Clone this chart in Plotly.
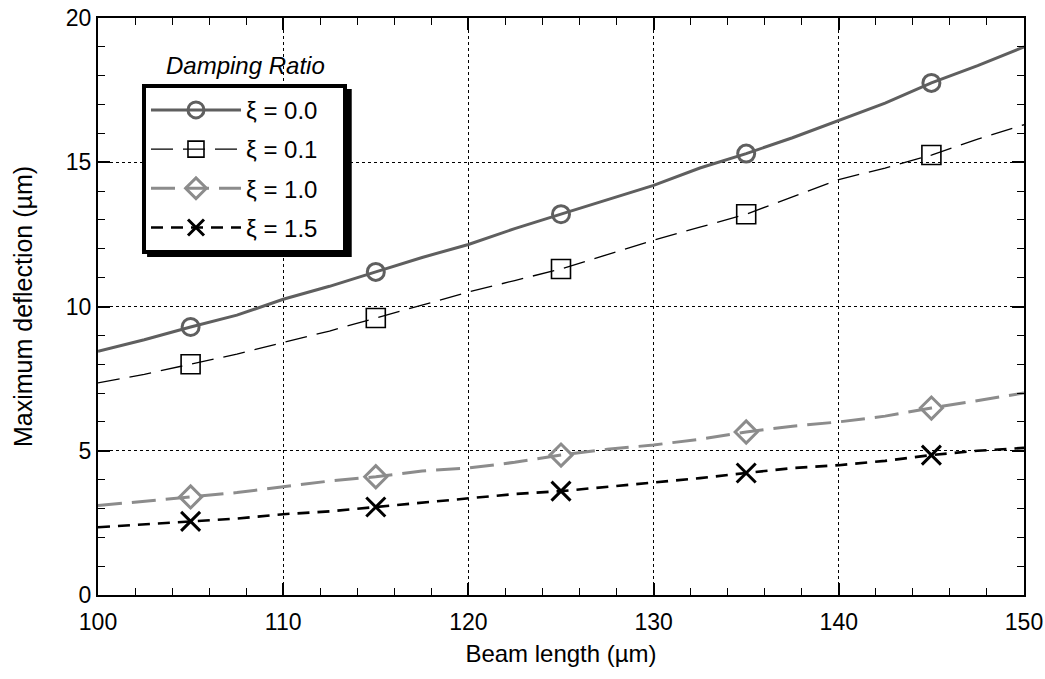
import plotly.graph_objects as go

beam_length = [100, 102.5, 105, 107.5, 110, 112.5, 115, 117.5, 120, 122.5, 125, 127.5, 130, 132.5, 135, 137.5, 140, 142.5, 145, 147.5, 150]
xi_00 = [8.45, 8.85, 9.29, 9.7, 10.25, 10.7, 11.2, 11.7, 12.15, 12.7, 13.2, 13.7, 14.2, 14.8, 15.3, 15.85, 16.45, 17.05, 17.75, 18.35, 19.0]
xi_01 = [7.35, 7.65, 8.0, 8.35, 8.75, 9.15, 9.6, 10.05, 10.5, 10.9, 11.3, 11.8, 12.3, 12.75, 13.2, 13.8, 14.4, 14.8, 15.25, 15.8, 16.3]
xi_10 = [3.1, 3.25, 3.4, 3.55, 3.75, 3.95, 4.1, 4.3, 4.4, 4.6, 4.85, 5.05, 5.2, 5.4, 5.65, 5.85, 6.0, 6.2, 6.48, 6.75, 7.0]
xi_15 = [2.35, 2.45, 2.55, 2.65, 2.8, 2.9, 3.05, 3.2, 3.35, 3.5, 3.6, 3.75, 3.9, 4.05, 4.23, 4.4, 4.5, 4.65, 4.85, 5.0, 5.1]

series_names = ["ξ = 0.0", "ξ = 0.1", "ξ = 1.0", "ξ = 1.5"]
marker_idx = [2, 6, 10, 14, 18]  # markers at 105, 115, 125, 135, 145

styles = [
    dict(color="#5f5f5f", width=3, dash="solid", symbol="circle-open", msize=17, mlw=3),
    dict(color="#000000", width=1.3, dash="22px,10px", symbol="square-open", msize=19, mlw=1.6),
    dict(color="#8c8c8c", width=3, dash="24px,10px", symbol="diamond-open", msize=17, mlw=3),
    dict(color="#000000", width=2.6, dash="12px,8px", symbol="x-thin-open", msize=19, mlw=3),
]

fig = go.Figure()
for k, (name, ys, st) in enumerate(zip(series_names, [xi_00, xi_01, xi_10, xi_15], styles)):
    fig.add_trace(go.Scatter(
        x=beam_length, y=ys, mode="lines", showlegend=False,
        line=dict(color=st["color"], width=st["width"], dash=st["dash"]),
    ))
    fig.add_trace(go.Scatter(
        x=[beam_length[i] for i in marker_idx], y=[ys[i] for i in marker_idx],
        mode="markers", showlegend=False,
        marker=dict(symbol=st["symbol"], size=st["msize"], color=st["color"],
                    line=dict(color=st["color"], width=st["mlw"])),
    ))
    fig.add_trace(go.Scatter(
        x=[None], y=[None], mode="lines+markers", name=name + "\u00a0\u00a0\u00a0",
        legendgroup=f"g{k}",
        line=dict(color=st["color"], width=st["width"], dash=st["dash"]),
        marker=dict(symbol=st["symbol"], size=st["msize"], color=st["color"],
                    line=dict(color=st["color"], width=st["mlw"])),
    ))

font = "Liberation Sans, Arial, sans-serif"
axis_common = dict(
    showline=True, linecolor="black", linewidth=2, mirror="ticks",
    ticks="inside", ticklen=12, tickwidth=1.5, tickcolor="black",
    showgrid=True, gridcolor="black", griddash="dot", gridwidth=1,
    zeroline=False, tickfont=dict(family=font, size=23, color="black"),
)
fig.update_xaxes(range=[100, 150], dtick=10,
                 title=dict(text="Beam length (µm)", font=dict(family=font, size=24, color="black"), standoff=12),
                 minor=dict(dtick=2, ticks="inside", ticklen=7, tickcolor="black", tickwidth=1.2, showgrid=False),
                 ticklabelstandoff=5,
                 **axis_common)
fig.update_yaxes(range=[0, 20], dtick=5,
                 title=dict(text="Maximum deflection (µm)", font=dict(family=font, size=25, color="black"), standoff=26),
                 minor=dict(dtick=1, ticks="inside", ticklen=7, tickcolor="black", tickwidth=1.2, showgrid=False),
                 **axis_common)

# legend drop shadow
fig.add_shape(type="rect", xref="paper", yref="paper", x0=0.053, x1=0.274, y0=0.586, y1=0.877,
              fillcolor="black", line=dict(width=0), layer="above")

fig.update_layout(
    width=1045, height=679,
    margin=dict(l=98, r=21, t=18, b=84, autoexpand=False),
    plot_bgcolor="white", paper_bgcolor="white",
    font=dict(family=font, size=23, color="black"),
    legend=dict(x=0.0475, y=0.886, xanchor="left", yanchor="top",
                bgcolor="white", bordercolor="black", borderwidth=4,
                font=dict(family=font, size=24, color="black"),
                itemwidth=90, tracegroupgap=5),
    annotations=[dict(text="<i>Damping Ratio</i>", xref="paper", yref="paper",
                      x=0.159, y=0.917, xanchor="center", yanchor="middle", showarrow=False,
                      font=dict(family=font, size=24, color="black"))],
)

fig.write_html("out.html")
